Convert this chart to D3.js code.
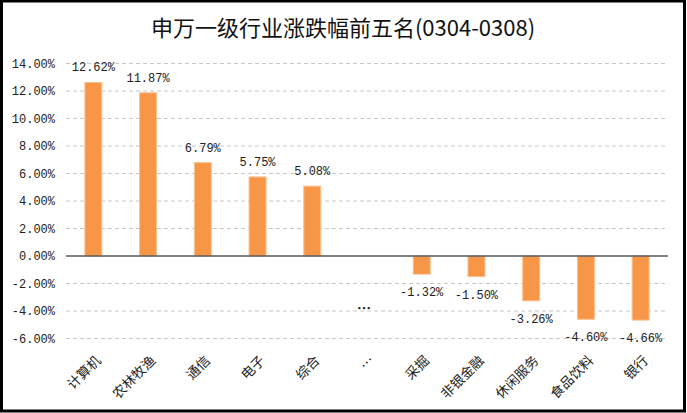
<!DOCTYPE html>
<html><head><meta charset="utf-8">
<script src="https://cdn.jsdelivr.net/npm/d3@7"></script>
<style>body{margin:0;background:#fff;} svg{display:block;}</style>
</head><body>
<svg id="c" width="687" height="413"></svg>
<script>
const title = "申万一级行业涨跌幅前五名(0304-0308)";
const categories = ["计算机","农林牧渔","通信","电子","综合","…","采掘","非银金融","休闲服务","食品饮料","银行"];
const values = [12.62, 11.87, 6.79, 5.75, 5.08, null, -1.32, -1.50, -3.26, -4.60, -4.66];
const labels = ["12.62%","11.87%","6.79%","5.75%","5.08%","…","-1.32%","-1.50%","-3.26%","-4.60%","-4.66%"];
const ellipsisLabelValue = -3.85;
const yTicks = [14,12,10,8,6,4,2,0,-2,-4,-6];
const yTickLabels = ["14.00%","12.00%","10.00%","8.00%","6.00%","4.00%","2.00%","0.00%","-2.00%","-4.00%","-6.00%"];

const svg = d3.select("#c");
const monoFont = "'Liberation Mono','DejaVu Sans Mono',monospace";
const cjkFont = "'Noto Sans CJK SC',sans-serif";

svg.append("rect").attr("x",1.5).attr("y",1).attr("width",683).attr("height",410)
  .attr("fill","#fff").attr("stroke","#000").attr("stroke-width",3);

svg.append("text").attr("x",343).attr("y",36).attr("text-anchor","middle")
  .attr("font-family",cjkFont).attr("font-size",22).attr("fill","#111")
  .text(title);

const x = d3.scaleBand().domain(categories).range([66,668]).paddingInner(0.69).paddingOuter(0.345);
const y = d3.scaleLinear().domain([-6,14]).range([338.5,63.5]);

// gridlines
svg.append("g").selectAll("line").data(yTicks.filter(d=>d!==0)).join("line")
  .attr("x1",66).attr("x2",668).attr("y1",d=>y(d)).attr("y2",d=>y(d))
  .attr("stroke","#c8c8c8").attr("stroke-width",1).attr("stroke-dasharray","4,3");

// y axis labels
const yAxis = d3.axisLeft(y).tickValues(yTicks).tickSize(0).tickPadding(0)
  .tickFormat((d,i)=>yTickLabels[i]);
const yg = svg.append("g").attr("transform","translate(55,0)").call(yAxis);
yg.select(".domain").remove();
yg.selectAll("text").attr("font-family",monoFont).attr("font-size",12).attr("fill","#222");

// bars
const bw = x.bandwidth();
svg.append("g").selectAll("rect").data(categories.map((c,i)=>({c,v:values[i]})).filter(d=>d.v!==null)).join("rect")
  .attr("x",d=>x(d.c)).attr("width",bw)
  .attr("y",d=>y(Math.max(0,d.v))).attr("height",d=>Math.abs(y(d.v)-y(0)))
  .attr("fill","#F79646").attr("stroke","#FAC08F").attr("stroke-width",1);

// zero line
svg.append("line").attr("x1",66).attr("x2",668).attr("y1",y(0)).attr("y2",y(0))
  .attr("stroke","#595959").attr("stroke-width",1.5);

// data labels
svg.append("g").selectAll("text").data(categories.map((c,i)=>({c,v:values[i],l:labels[i]}))).join("text")
  .attr("x",d=>x(d.c)+bw/2 - (d.v===null?3:0))
  .attr("y",d=>d.v===null ? y(ellipsisLabelValue)+4 : (d.v>=0 ? y(d.v)-11 : y(d.v)+22))
  .attr("text-anchor","middle")
  .attr("font-family",d=>d.v===null?cjkFont:monoFont).attr("font-size",d=>d.v===null?14:12)
  .attr("font-weight",d=>d.v===null?"bold":"normal").attr("fill","#222")
  .text(d=>d.l);

// category labels
svg.append("g").selectAll("text").data(categories).join("text")
  .attr("transform",d=>`translate(${x(d)+bw/2+5},${358}) rotate(-45)`)
  .attr("text-anchor","end").attr("dy","0.35em")
  .attr("font-family",cjkFont).attr("font-size",13.5).attr("fill","#222")
  .text(d=>d);
</script>
</body></html>
